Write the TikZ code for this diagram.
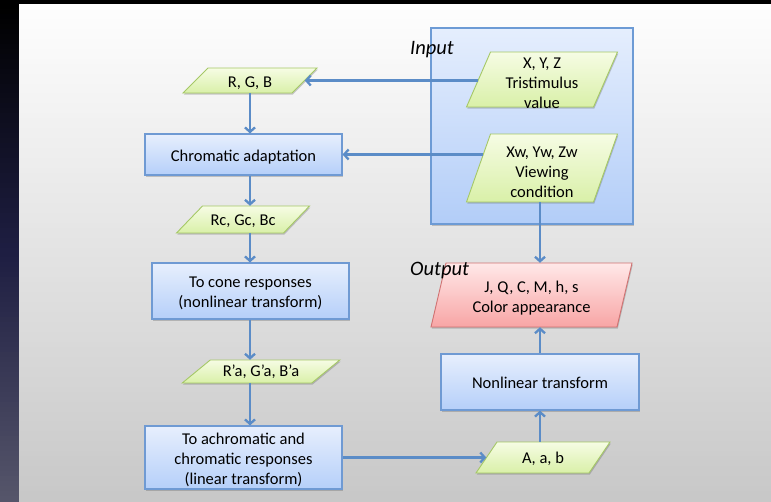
\documentclass[tikz,border=0pt]{standalone}
\usepackage{fontspec}
\setmainfont{Carlito}
\usetikzlibrary{arrows.meta,shadows}

\definecolor{boxtop}{HTML}{E7EFFD}
\definecolor{boxbot}{HTML}{B5CFF9}
\definecolor{boxline}{HTML}{6F9AD3}
\definecolor{grtop}{HTML}{F6FCE4}
\definecolor{grbot}{HTML}{D9F0A8}
\definecolor{grline}{HTML}{A5C866}
\definecolor{rdtop}{HTML}{FFE8E8}
\definecolor{rdbot}{HTML}{F8A5A5}
\definecolor{rdline}{HTML}{D07272}
\definecolor{intop}{HTML}{E5EEFD}
\definecolor{inbot}{HTML}{B2CDF8}
\definecolor{inline}{HTML}{6D9BD5}
\definecolor{arrcol}{HTML}{5B8CC7}
\definecolor{slidetop}{HTML}{FEFEFE}
\definecolor{slidebot}{HTML}{C8C8C8}
\definecolor{darkmid}{HTML}{1E1E42}
\definecolor{darkbot}{HTML}{55556A}

% text block lowered by #1 without changing the box used for centring
\newcommand\tl[2]{\raisebox{#1}[\height][\depth]{\begin{tabular}{@{}c@{}}#2\end{tabular}}}
% parallelogram: centre x, centre y, mean width, height, skew, style
\newcommand\para[6]{%
  \draw[#6] ({#1-#3/2-#5/2},{#2+#4/2}) -- ({#1-#3/2+#5/2},{#2-#4/2})
     -- ({#1+#3/2+#5/2},{#2-#4/2}) -- ({#1+#3/2-#5/2},{#2+#4/2}) -- cycle;}

\tikzset{
  shad/.style={drop shadow={shadow xshift=0.8pt,shadow yshift=-1.6pt,opacity=0.28,fill=black!70}},
  bluebox/.style={draw=boxline,line width=1.1pt,top color=boxtop,bottom color=boxbot,
     align=center,inner sep=0pt,shad},
  pnode/.style={draw=none,inner sep=0pt,align=center},
  greenp/.style={draw=grline,line width=0.9pt,top color=grtop,bottom color=grbot,shad},
  redp/.style={draw=rdline,line width=0.9pt,top color=rdtop,bottom color=rdbot,shad},
  arr/.style={draw=arrcol,line width=2.3pt,-{Straight Barb[length=4.5pt,width=10pt]}},
  lab/.style={font=\fontsize{20.5}{24}\selectfont\itshape,inner sep=0pt,anchor=base west}
}

\begin{document}
\begin{tikzpicture}[x=1pt,y=-1pt,font=\fontsize{16.5}{20}\selectfont]
\useasboundingbox (0,0) rectangle (771,501);
% background: slide gradient and dark margin, built from plain strips
\fill[black] (0,0) rectangle (771,501);
\foreach \i in {0,...,99}{
  \pgfmathsetmacro\f{\i*100/99}
  \fill[slidebot!\f!slidetop] (19,{4+\i*4.97}) rectangle (771,{4+(\i+1)*4.97+0.6});
}
\foreach \i in {0,...,49}{
  \pgfmathsetmacro\f{\i*100/49}
  \fill[darkmid!\f!black] (0,{4+\i*4.97}) rectangle (19,{4+(\i+1)*4.97+0.6});
  \fill[darkbot!\f!darkmid] (0,{252.5+\i*4.97}) rectangle (19,{252.5+(\i+1)*4.97+0.6});
}

% input frame
\node[draw=inline,line width=1.1pt,top color=intop,bottom color=inbot,shad,
      minimum width=202,minimum height=196,inner sep=0pt] (inbox) at (532,126) {};

% parallelogram outlines
\para{250}{80.5}{109}{25}{25}{greenp}
\para{243}{219.5}{107}{27}{26}{greenp}
\para{261}{371.5}{129.5}{23}{28}{greenp}
\para{542}{79.5}{127}{55}{24}{greenp}
\para{542}{168}{127}{68}{24}{greenp}
\para{531.5}{295}{186}{64}{15}{redp}
\para{543}{457.5}{113}{31}{21}{greenp}

\coordinate (colL) at (250,0);
\coordinate (colR) at (540,0);

% left column
\node[pnode,minimum width=109,minimum height=25] (rgb) at (250,80.5) {\tl{-2.5pt}{R, G, B}};
\node[bluebox,minimum width=197,minimum height=41] (chrom) at (243.5,154.5)
   {\tl{-2.5pt}{Chromatic adaptation}};
\node[pnode,minimum width=107,minimum height=27] (rc) at (243,219.5) {\tl{-2pt}{Rc, Gc, Bc}};
\node[bluebox,minimum width=197,minimum height=56] (cone) at (250.5,291)
   {\tl{-2pt}{To cone responses\\(nonlinear transform)}};
\node[pnode,minimum width=129.5,minimum height=23] (ra) at (261,371.5) {\tl{-1pt}{R’a, G’a, B’a}};
\node[bluebox,minimum width=197,minimum height=63] (achrom) at (243.5,457.5)
   {\tl{-3pt}{To achromatic and\\chromatic responses\\(linear transform)}};

% right column
\node[pnode,minimum width=127,minimum height=55] (xyz) at (542,79.5)
   {\tl{-5pt}{X, Y, Z\\Tristimulus\\value}};
\node[pnode,minimum width=127,minimum height=68] (xw) at (542,168)
   {\tl{-5.5pt}{Xw, Yw, Zw\\Viewing\\condition}};
\node[pnode,minimum width=186,minimum height=64] (out) at (531.5,295)
   {\tl{-3.5pt}{J, Q, C, M, h, s\\Color appearance}};
\node[bluebox,minimum width=198,minimum height=56] (nonlin) at (540,382)
   {\tl{-2pt}{Nonlinear transform}};
\node[pnode,minimum width=113,minimum height=31] (abc) at (543,457.5) {\tl{-2pt}{A, a, b}};

% labels
\node[lab] (inlab) at (410,54) {Input};
\node[lab] (outlab) at (410,275) {Output};

% connectors
\draw[arr] (xyz.west |- rgb.east) -- (rgb.east);
\draw[arr] ([xshift=5]xw.west |- chrom.east) -- (chrom.east);
\draw[arr] (rgb.south -| colL) -- (chrom.north -| colL);
\draw[arr] (chrom.south -| colL) -- (rc.north -| colL);
\draw[arr] (rc.south -| colL) -- (cone.north -| colL);
\draw[arr] (cone.south -| colL) -- (ra.north -| colL);
\draw[arr] (ra.south -| colL) -- (achrom.north -| colL);
\draw[arr] (achrom.east) -- (abc.west);
\draw[arr] (abc.north -| colR) -- (nonlin.south -| colR);
\draw[arr] (nonlin.north -| colR) -- (out.south -| colR);
\draw[arr] (xw.south -| colR) -- (out.north -| colR);
\end{tikzpicture}
\end{document}
